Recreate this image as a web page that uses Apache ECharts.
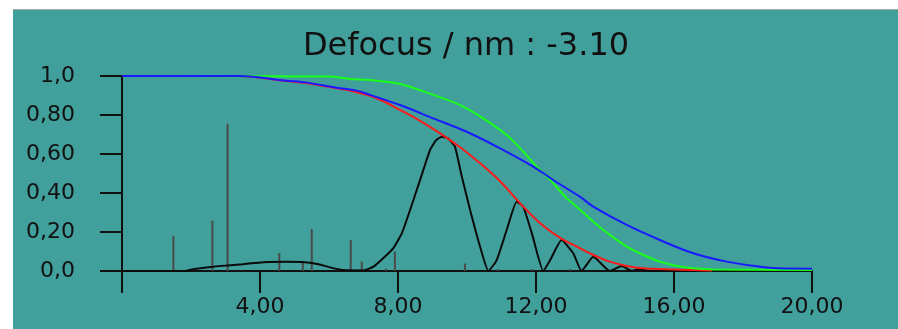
<!DOCTYPE html>
<html>
<head>
<meta charset="utf-8">
<script src="https://cdn.jsdelivr.net/npm/echarts@6/dist/echarts.min.js"></script>
<style>
  html, body { margin: 0; padding: 0; background: #fff; }
  #panel { position: absolute; left: 13px; top: 9px; width: 885px; height: 320px;
           background: #419f9c; border-top: 1px solid #a9a9a9; box-sizing: border-box; }
  #chart { position: absolute; left: 0; top: 0; width: 898px; height: 329px; }
</style>
</head>
<body>
<div id="panel"></div>
<div id="chart"></div>
<script>
// envelope curves
const redX   = [0, 3.4, 4.77, 5.36, 6.22, 6.61, 7.38, 8.06, 8.64, 9.22, 9.80, 10.38, 10.96, 11.54, 12.12, 12.70, 13.28, 13.66, 14.14, 14.63, 15.11, 15.79, 16.56, 17.1]
const redY   = [1.0, 1.0, 0.974, 0.963, 0.937, 0.925, 0.886, 0.826, 0.77, 0.706, 0.635, 0.552, 0.46, 0.347, 0.245, 0.17, 0.116, 0.082, 0.048, 0.026, 0.014, 0.009, 0.005, 0.003]

const blueX  = [0, 3.4, 4.77, 5.36, 6.22, 6.8, 7.19, 8.06, 9.02, 9.99, 10.96, 11.92, 12.60, 13.28, 13.66, 14.63, 15.59, 16.56, 17.53, 18.49, 19.0, 20.0]
const blueY  = [1.0, 1.0, 0.976, 0.966, 0.94, 0.925, 0.903, 0.851, 0.783, 0.714, 0.629, 0.535, 0.455, 0.38, 0.33, 0.236, 0.159, 0.091, 0.048, 0.022, 0.014, 0.012]

const greenX = [0, 6.0, 6.61, 7.19, 8.06, 9.02, 9.80, 10.47, 11.15, 11.63, 12.02, 12.41, 12.89, 13.18, 13.66, 14.14, 14.63, 15.11, 15.59, 16.08, 16.56, 17.14, 20.0]
const greenY = [1.0, 0.997, 0.985, 0.979, 0.959, 0.903, 0.851, 0.783, 0.697, 0.612, 0.535, 0.467, 0.373, 0.330, 0.253, 0.185, 0.125, 0.082, 0.048, 0.026, 0.014, 0.008, 0.005]

// oscillating transfer curve
const ctfX = [0, 1.8, 2.1, 2.8, 3.5, 4.1, 4.8, 5.3, 5.7, 6.0, 6.4, 7.0, 7.29, 7.57, 7.86, 8.11, 8.35, 8.64, 8.93, 9.1, 9.27, 9.45, 9.65, 9.85, 10.09, 10.38, 10.62, 10.86, 11.15, 11.44, 11.63, 11.88, 12.21, 12.41, 12.74, 13.08, 13.32, 13.66, 14.14, 14.48, 14.77, 15.0, 15.3, 17.0]
const ctfY = [0, 0, 0.01, 0.025, 0.035, 0.045, 0.047, 0.045, 0.035, 0.02, 0.005, 0.003, 0.022, 0.065, 0.116, 0.193, 0.313, 0.467, 0.621, 0.67, 0.689, 0.68, 0.638, 0.484, 0.313, 0.124, 0, 0.056, 0.21, 0.355, 0.33, 0.193, 0, 0.056, 0.159, 0.091, 0, 0.073, 0, 0.026, 0, 0.01, 0, 0]

// grey spikes
const spikeX = [1.49, 2.62, 3.06, 4.56, 5.24, 5.50, 6.63, 6.95, 7.65, 7.91, 9.94, 10.9, 11.9, 13.0, 14.2]
const spikeY = [0.18, 0.258, 0.755, 0.092, 0.045, 0.215, 0.159, 0.048, 0.012, 0.10, 0.038, 0.01, 0.01, 0.01, 0.01]

const zip = (xs, ys) => xs.map((x, i) => [x, ys[i]])

const font = 'DejaVu Sans'
const fmtY = v => (v === 0 ? '0,0' : v === 1 ? '1,0' : v.toFixed(2).replace('.', ','))
const fmtX = v => (v === 0 ? '' : v.toFixed(2).replace('.', ','))

const chart = echarts.init(document.getElementById('chart'))

const curve = (data, color, z, smooth) => ({
  type: 'line',
  data,
  showSymbol: false,
  smooth,
  lineStyle: { color, width: 2 },
  z,
})

chart.setOption({
  backgroundColor: 'transparent',
  animation: false,
  title: {
    text: 'Defocus / nm : -3.10',
    left: 466,
    top: 31,
    padding: 0,
    textAlign: 'center',
    textStyle: { fontFamily: font, fontSize: 32, fontWeight: 'normal', color: '#111' },
  },
  grid: { left: 122, right: 86, top: 76, bottom: 58 },
  xAxis: {
    type: 'value',
    min: 0,
    max: 20,
    interval: 4,
    axisLine: { lineStyle: { color: '#111', width: 2 } },
    axisTick: { show: true, length: 22, lineStyle: { color: '#111', width: 2 } },
    axisLabel: { formatter: fmtX, margin: 25, color: '#111', fontFamily: font, fontSize: 22 },
    splitLine: { show: false },
  },
  yAxis: {
    type: 'value',
    min: 0,
    max: 1,
    interval: 0.2,
    axisLine: { show: true, lineStyle: { color: '#111', width: 2 } },
    axisTick: { show: true, length: 22, lineStyle: { color: '#111', width: 2 } },
    axisLabel: { formatter: fmtY, margin: 47, color: '#111', fontFamily: font, fontSize: 22 },
    splitLine: { show: false },
  },
  series: [
    {
      type: 'bar',
      data: zip(spikeX, spikeY),
      barWidth: 2,
      itemStyle: { color: '#4a4a4a' },
      z: 1,
    },
    curve(zip(ctfX, ctfY), '#0a0a0a', 2, 0.15),
    curve(zip(redX, redY), '#ff1a1a', 3, 0.35),
    curve(zip(greenX, greenY), '#19ff19', 4, 0.35),
    curve(zip(blueX, blueY), '#1a1aff', 5, 0.35),
  ],
})

window.addEventListener('resize', () => chart.resize())
</script>
</body>
</html>
